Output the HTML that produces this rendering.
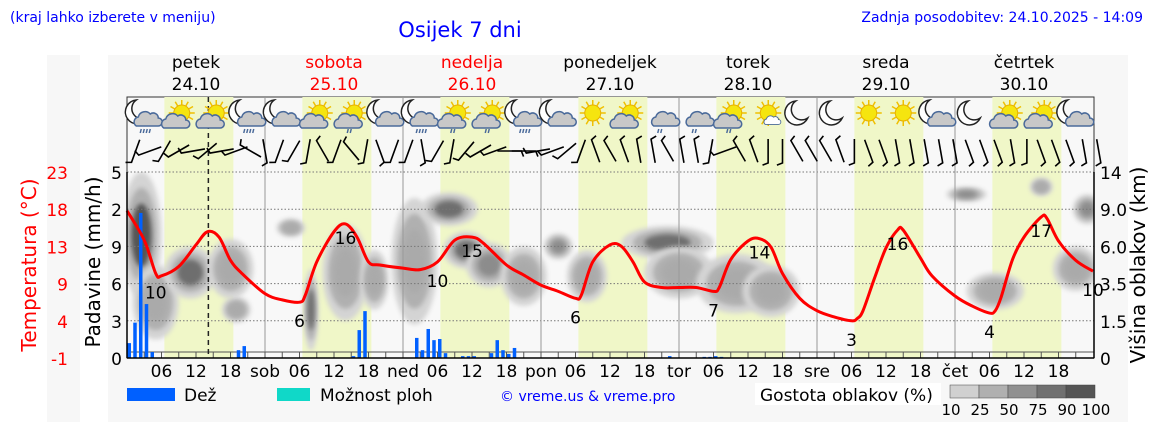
<!DOCTYPE html>
<html><head><meta charset="utf-8">
<style>
body{margin:0;background:#fff;font-family:"Liberation Sans","DejaVu Sans",sans-serif;}
svg text{font-family:"DejaVu Sans","Liberation Sans",sans-serif;}
</style></head>
<body>
<svg id="c" width="1152" height="443" viewBox="0 0 1152 443" xmlns="http://www.w3.org/2000/svg">
<defs>
<filter id="blur" x="-50%" y="-50%" width="200%" height="200%"><feGaussianBlur stdDeviation="2.5"/></filter>
<clipPath id="plotclip"><rect x="127" y="172" width="967" height="186"/></clipPath>
</defs>
<rect x="47" y="55" width="1081" height="367" fill="#f7f7f7"/>
<rect x="80" y="55" width="28" height="367" fill="#fff"/>
<text x="10" y="22" font-size="14" fill="#0000ff">(kraj lahko izberete v meniju)</text>
<text x="460" y="37" font-size="21" fill="#0000ff" text-anchor="middle">Osijek 7 dni</text>
<text x="1143" y="22" font-size="14" fill="#0000ff" text-anchor="end">Zadnja posodobitev: 24.10.2025 - 14:09</text>
<g id="bg"></g><g id="clouds" clip-path="url(#plotclip)"></g><g id="grid"></g><g id="bars"></g><g id="temp"></g><g id="icons"></g><g id="wind"></g><g id="axes"></g><g id="legend"></g>
</svg>
<script>
// ---- data ----
const dayNames=["petek","sobota","nedelja","ponedeljek","torek","sreda","četrtek"];
const dayDates=["24.10","25.10","26.10","27.10","28.10","29.10","30.10"];
const dayAbbr=["","sob","ned","pon","tor","sre","čet"];
const tempTicks=[-1,4,9,13,18,23];
const precipTicks=["0","3","6","9","2","5"];
const heightTicks=["0","1.5","3.5","6.0","9.0","14"];
const tempHours=[0,3,5,6,9,12,14,16,18,20,24,27,30,31,33,36,38,40,42,44,48,51,54,57,60,62,66,69,72,75,78,79,81,84,86,88,90,93,96,99,102,103,105,108,110,112,114,117,120,123,126,127,128,130,132,134,135,138,140,144,147,150,151,152,154,156,159,160,162,165,168];
const tempVals=[18,14.2,9.9,9.6,10.8,13.6,15.3,14.6,11.6,9.9,7.3,6.5,6.2,7.1,11.4,15.3,16.3,14.6,11.4,11,10.6,10.4,11.4,14.2,14.6,13.8,11,9.7,8.4,7.6,6.7,7.1,11.4,13.6,13.4,11.4,8.8,8.1,8.1,8.1,7.6,8.1,11.7,14.1,14.4,13.3,9.9,6.7,5.1,4.3,3.8,4.1,5.1,9.3,13.2,15.5,15.5,11.9,9.6,7,5.7,4.8,5.1,6.8,11.7,14.6,17.2,17,14.1,11.6,10.2];
const tempLabels=[[5,10,-1],[15,15,1],[30,6,-1],[38,16,1],[54,10,-1],[60,15,1],[78,6,-1],[87,14,1],[102,7,-1],[110,14,1],[126,3,-1],[134,16,1],[150,4,-1],[159,17,1],[168,10,-1]];
const rainHours=[0,1,2,3,4,19,20,39,40,41,50,51,52,53,54,55,58,59,60,63,64,65,66,67,94,100,101,102,103];
const rainVals=[0.4,0.95,3.9,1.45,0.16,0.21,0.32,0.05,0.75,1.26,0.54,0.21,0.78,0.48,0.51,0.13,0.05,0.05,0.05,0.13,0.48,0.21,0.11,0.27,0.05,0.03,0.03,0.05,0.03];
// cloud blobs: [hour, level(0-5), rxHours, ryLevel, darkness]
const cloudBlobs=[[2.5,3.3,3.5,1.7,0.95],[5,1.5,4,1,0.4],[11,2.3,4.5,0.7,0.8],[18,2.4,4,0.8,0.5],[19,1.3,2.5,0.35,0.45],[28.5,3.5,2.5,0.25,0.45],[32,1.3,1.3,1.1,0.8],[38,2.3,4,1.3,0.45],[43,2.1,2.5,0.8,0.45],[50,2.6,4,1.7,0.5],[56,4,5,0.45,0.85],[59,2.9,4,0.5,0.75],[63,2.5,4,0.6,0.55],[69,2.2,4,0.8,0.5],[75,3,2.5,0.35,0.55],[80,2.2,3.5,0.7,0.5],[94,3.1,8,0.45,0.8],[96,2.3,6,0.7,0.5],[106,2,7,0.8,0.45],[112,1.8,5,0.7,0.4],[146,4.4,3.5,0.2,0.55],[151,1.8,5,0.5,0.5],[159,4.6,2,0.25,0.35],[167,4,2.5,0.4,0.6],[165,2.4,4,0.6,0.45]];
const iconTypes=["moonrain","suncloud","suncloud","moonrain","mooncloud","suncloud","suncloudrain","mooncloud","moonrain","suncloudrain","suncloudrain","moonrain","mooncloud","sun","suncloud","cloudrain","cloudrain","suncloudrain","suncloudsmall","moon","moon","sun","sun","mooncloud","moon","suncloud","suncloud","mooncloud"];
const windDirs=[200,250,210,240,260,230,260,250,300,170,200,210,190,330,200,320,190,160,200,200,170,210,190,220,240,250,90,90,260,250,230,200,340,330,340,350,350,330,350,350,190,250,330,340,180,180,330,330,330,340,180,160,160,170,170,170,170,170,160,160,160,170,180,160,160,160,170,170];

// ---- scales ----
const X0=127,PX=5.75,YB=358,YT=172;
const x=h=>X0+h*PX;
const yT=t=>YB-(t+1)*(YB-YT)/24;
const yL=l=>YB-l*37.2;
const NS="http://www.w3.org/2000/svg";
function mk(parent,tag,attrs,text){const e=document.createElementNS(NS,tag);for(const k in attrs)e.setAttribute(k,attrs[k]);if(text!==undefined)e.textContent=text;document.getElementById(parent).appendChild(e);return e;}

// background
let e=mk("bg","rect",{x:127,y:97,width:967,height:261,fill:"#f8f8f8",stroke:"#333","stroke-width":1});


for(let d=0;d<7;d++){
  e=mk("bg","rect",{x:x(d*24+6.5),y:97,width:12*PX,height:261,fill:"#f0f7c8"});
  
  
  e=mk("bg","text",{x:x(d*24+12),y:68,"font-size":17,"text-anchor":"middle",fill:(d==1||d==2)?"#ff0000":"#000"},dayNames[d]);
  
  
  e=mk("bg","text",{x:x(d*24+12),y:90,"font-size":17,"text-anchor":"middle",fill:(d==1||d==2)?"#ff0000":"#000"},dayDates[d]);
  
  
}
// clouds
const shades=[[0.3,"#c8c8c8"],[0.5,"#aaaaaa"],[0.7,"#8c8c8c"],[0.85,"#6e6e6e"],[1,"#555"]];
cloudBlobs.forEach(b=>{
  e=mk("clouds","ellipse",{cx:x(b[0]),cy:yL(b[1]),rx:b[2]*PX,ry:b[3]*37.2,fill:"#d4d4d4",filter:"url(#blur)"});
  
  
  e=mk("clouds","ellipse",{cx:x(b[0]),cy:yL(b[1]),rx:b[2]*PX*0.75,ry:b[3]*37.2*0.75,fill:"#b0b0b0",filter:"url(#blur)"});
  
  
  let col=shades.find(s=>b[4]<=s[0])[1];
  e=mk("clouds","ellipse",{cx:x(b[0]),cy:yL(b[1]),rx:b[2]*PX*0.5,ry:b[3]*37.2*0.5,fill:col,filter:"url(#blur)"});
  
  
});
// grid
for(let i=1;i<=5;i++){
  e=mk("grid","line",{x1:127,x2:1094,y1:yL(i),y2:yL(i),stroke:"#777","stroke-dasharray":"1.5,2","stroke-width":1});
  
  
}
for(let d=1;d<7;d++){
  e=mk("grid","line",{x1:x(d*24),x2:x(d*24),y1:97,y2:358,stroke:"#999","stroke-width":1});
  
  
}
e=mk("grid","line",{x1:127,x2:1094,y1:352,y2:352,stroke:"#555","stroke-width":1});


for(let h=3;h<168;h+=3){
  e=mk("grid","line",{x1:x(h),x2:x(h),y1:352,y2:358,stroke:"#555"});
  
  
}
e=mk("grid","line",{x1:x(14.15),x2:x(14.15),y1:97,y2:358,stroke:"#222","stroke-dasharray":"5,4","stroke-width":1.5});


// rain bars
rainHours.forEach((h,i)=>{
  e=mk("bars","rect",{x:x(h)+0.5,y:YB-rainVals[i]*37.2,width:3.5,height:rainVals[i]*37.2,fill:"#0060ff"});
  
  
});
// temperature (Catmull-Rom smoothing)
let pts=tempHours.map((h,i)=>[x(h),yT(tempVals[i])]);
let dstr="M"+pts[0][0]+","+pts[0][1];
for(let i=0;i<pts.length-1;i++){
  const p0=pts[Math.max(0,i-1)],p1=pts[i],p2=pts[i+1],p3=pts[Math.min(pts.length-1,i+2)];
  const c1=[p1[0]+(p2[0]-p0[0])/6,p1[1]+(p2[1]-p0[1])/6];
  const c2=[p2[0]-(p3[0]-p1[0])/6,p2[1]-(p3[1]-p1[1])/6];
  dstr+=" C"+c1[0]+","+c1[1]+" "+c2[0]+","+c2[1]+" "+p2[0]+","+p2[1];
}
e=mk("temp","path",{d:dstr,fill:"none",stroke:"#ff0000","stroke-width":3,"stroke-linejoin":"round"});


tempLabels.forEach(l=>{
  const ti=tempHours.indexOf(l[0]);const yy=yT(tempVals[ti]);
  e=mk("temp","text",{x:x(l[0]),y:l[2]<0?yy+25:yy+20,"font-size":17,"text-anchor":"middle",fill:"#000"},String(l[1]));
  
  
});
// icons
function icon(cx,type){
  const g=mk("icons","g",{transform:"translate("+cx+",116)"});
  
  
  const add=(t,a)=>{const el=document.createElementNS(NS,t);for(const k in a)el.setAttribute(k,a[k]);g.appendChild(el);};
  const sun=type.startsWith("sun"),moon=type.startsWith("moon");
  if(sun){for(let k=0;k<12;k++){const a=k*Math.PI/6;add("line",{x1:(type=="sun"?0:3)+Math.cos(a)*8,y1:-3+Math.sin(a)*8,x2:(type=="sun"?0:3)+Math.cos(a)*13,y2:-3+Math.sin(a)*13,stroke:"#f0c000","stroke-width":1.5});}
    add("circle",{cx:type=="sun"?0:3,cy:-3,r:8,fill:"#f5e50f",stroke:"#e8b000"});}
  if(moon||type=="moon"){add("path",{d:"M-2,-15 A12,12 0 1 0 10,2 A10,10 0 0 1 -2,-15Z",fill:"#fff",stroke:"#222","stroke-width":1.5,transform:type=="moon"?"translate(-2,0)":"translate(-6,-1)"});}
  if(type!="sun"&&type!="moon"){
    const fill=type=="suncloudsmall"?"#fff":"#c8c8c8";
    const s=type=="suncloudsmall"?0.6:1;const ox=type=="suncloudsmall"?6:(sun?-5:2);
    add("path",{d:"M-10,9 a5,5 0 0 1 2,-9 a7,7 0 0 1 12,-3 a5,5 0 0 1 8,4 a4,4 0 0 1 0,8 Z",fill:fill,stroke:"#4a6a9a","stroke-width":1.5,transform:"translate("+ox+","+(sun?3:1)+") scale("+s+")"});
    if(type.includes("rain")){const n=type=="moonrain"?4:2;for(let k=0;k<n;k++)add("line",{x1:-3+k*3,y1:13,x2:-4+k*3,y2:17,stroke:"#4a6a9a","stroke-width":1.5});}
  }
}
iconTypes.forEach((t,i)=>icon(x(3+6*i),t));
// wind barbs
windDirs.forEach((dir,i)=>{
  const cx=x(1.5+i*2.5),cy=151,a=(dir-90)*Math.PI/180,L=12;
  const x1=cx-Math.cos(a)*L,y1=cy-Math.sin(a)*L,x2=cx+Math.cos(a)*L,y2=cy+Math.sin(a)*L;
  e=mk("wind","path",{d:"M"+x1+","+y1+" L"+x2+","+y2+" l"+(Math.cos(a+1.2)*6)+","+(Math.sin(a+1.2)*6),stroke:"#000","stroke-width":1.6,fill:"none"});
  
  
});
// axes
e=mk("axes","line",{x1:127,x2:127,y1:172,y2:358,stroke:"#000","stroke-width":1.5});


e=mk("axes","line",{x1:1094,x2:1094,y1:172,y2:358,stroke:"#000","stroke-width":1.5});


e=mk("axes","line",{x1:127,x2:1094,y1:358,y2:358,stroke:"#000","stroke-width":1.5});


tempTicks.forEach((t,i)=>{
  e=mk("axes","text",{x:68,y:yL(i)+7,"font-size":17,"text-anchor":"end",fill:"#ff0000"},String(t));
  
  
});
precipTicks.forEach((t,i)=>{
  e=mk("axes","text",{x:122,y:yL(i)+7,"font-size":17,"text-anchor":"end",fill:"#000"},t);
  
  
});
heightTicks.forEach((t,i)=>{
  e=mk("axes","text",{x:1100,y:yL(i)+7,"font-size":17,fill:"#000"},t);
  
  
});
for(let d=0;d<7;d++){[0,6,12,18].forEach(h=>{
  const lab=h==0?dayAbbr[d]:String(h).padStart(2,"0");if(!lab)return;
  e=mk("axes","text",{x:x(d*24+h),y:377,"font-size":17,"text-anchor":"middle",fill:"#000"},lab);
  
  
});}
e=mk("axes","text",{x:0,y:0,"font-size":20,"text-anchor":"middle",fill:"#ff0000",transform:"translate(36,265) rotate(-90)"},"Temperatura (°C)");


e=mk("axes","text",{x:0,y:0,"font-size":20,"text-anchor":"middle",fill:"#000",transform:"translate(100,262) rotate(-90)"},"Padavine (mm/h)");


e=mk("axes","text",{x:0,y:0,"font-size":20,"text-anchor":"middle",fill:"#000",transform:"translate(1145,265) rotate(-90)"},"Višina oblakov (km)");


// legend
e=mk("legend","rect",{x:127,y:388,width:48,height:13,fill:"#0060ff"});


e=mk("legend","text",{x:184,y:401,"font-size":17},"Dež");


e=mk("legend","rect",{x:277,y:388,width:33,height:13,fill:"#10d8c8"});


e=mk("legend","text",{x:320,y:401,"font-size":17},"Možnost ploh");


e=mk("legend","text",{x:500,y:401,"font-size":14,fill:"#0000ff"},"© vreme.us & vreme.pro");


e=mk("legend","rect",{x:755,y:383,width:186,height:22,fill:"#fff"});


e=mk("legend","text",{x:760,y:401,"font-size":17},"Gostota oblakov (%)");


const cb=["#d0d0d0","#b0b0b0","#909090","#707070","#555"];
cb.forEach((c,i)=>{
  e=mk("legend","rect",{x:950+i*29,y:385,width:29,height:13,fill:c,stroke:"#444","stroke-width":0.5});
  
  
});
["10","25","50","75","90","100"].forEach((t,i)=>{
  e=mk("legend","text",{x:951+i*29,y:415,"font-size":15,"text-anchor":"middle"},t);
  
  
});
</script>
</body></html>
